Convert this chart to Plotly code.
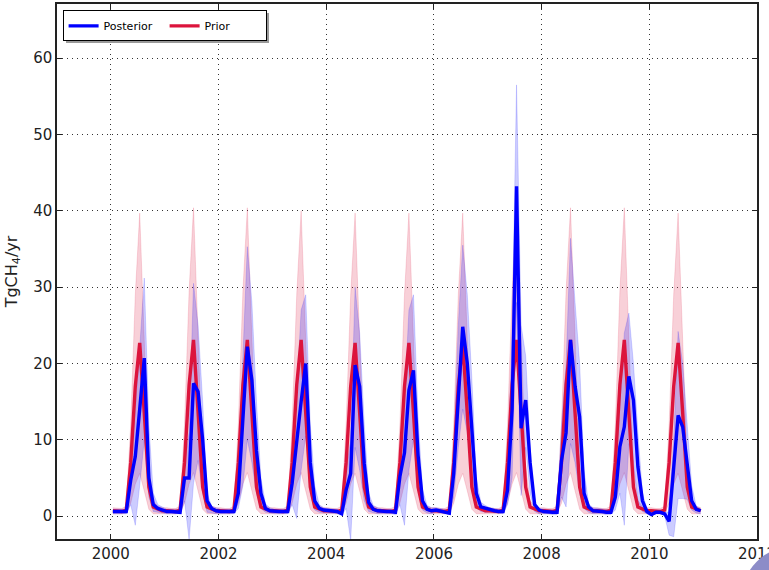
import plotly.graph_objects as go

years = list(range(2000, 2011))
months = [f"{y}-{m:02d}-15" for y in years for m in range(1, 13)]

prior_mean = [
    0.7, 0.6, 0.6, 0.8, 7.0, 17.0, 22.7, 13.5, 3.8, 1.2, 0.9, 0.7,   # 2000
    0.7, 0.6, 0.6, 0.8, 7.0, 17.2, 23.1, 13.6, 3.8, 1.2, 0.9, 0.7,   # 2001
    0.7, 0.6, 0.6, 0.8, 7.0, 17.2, 23.1, 13.5, 3.8, 1.2, 0.9, 0.7,   # 2002
    0.7, 0.6, 0.6, 0.8, 7.0, 17.2, 23.1, 13.5, 3.8, 1.2, 0.9, 0.7,   # 2003
    0.7, 0.6, 0.6, 0.8, 7.0, 17.0, 22.7, 13.5, 3.8, 1.2, 0.9, 0.7,   # 2004
    0.7, 0.6, 0.6, 0.8, 7.0, 17.0, 22.7, 13.5, 3.8, 1.2, 0.9, 0.7,   # 2005
    0.7, 0.6, 0.6, 0.8, 7.0, 17.0, 22.7, 13.5, 3.8, 1.2, 0.9, 0.7,   # 2006
    0.7, 0.6, 0.6, 0.8, 7.0, 17.2, 23.1, 13.6, 3.8, 1.2, 0.9, 0.7,   # 2007
    0.7, 0.6, 0.6, 0.8, 7.0, 17.2, 23.1, 13.5, 3.8, 1.2, 0.9, 0.7,   # 2008
    0.7, 0.6, 0.6, 0.8, 7.0, 17.2, 23.1, 13.5, 3.8, 1.2, 0.9, 0.7,   # 2009
    0.7, 0.6, 0.6, 0.8, 7.0, 17.0, 22.7, 13.5, 3.8, 1.2, 0.9, 0.7,   # 2010
]
prior_lo = [
    0.3, 0.3, 0.3, 0.4, 1.7, 4.2, 5.6, 3.3, 0.9, 0.3, 0.3, 0.3,
    0.3, 0.3, 0.3, 0.4, 1.7, 4.2, 5.7, 3.3, 0.9, 0.3, 0.3, 0.3,
    0.3, 0.3, 0.3, 0.4, 1.7, 4.2, 5.7, 3.3, 0.9, 0.3, 0.3, 0.3,
    0.3, 0.3, 0.3, 0.4, 1.7, 4.2, 5.7, 3.3, 0.9, 0.3, 0.3, 0.3,
    0.3, 0.3, 0.3, 0.4, 1.7, 4.2, 5.6, 3.3, 0.9, 0.3, 0.3, 0.3,
    0.3, 0.3, 0.3, 0.4, 1.7, 4.2, 5.6, 3.3, 0.9, 0.3, 0.3, 0.3,
    0.3, 0.3, 0.3, 0.4, 1.7, 4.2, 5.6, 3.3, 0.9, 0.3, 0.3, 0.3,
    0.3, 0.3, 0.3, 0.4, 1.7, 4.2, 5.7, 3.3, 0.9, 0.3, 0.3, 0.3,
    0.3, 0.3, 0.3, 0.4, 1.7, 4.2, 5.7, 3.3, 0.9, 0.3, 0.3, 0.3,
    0.3, 0.3, 0.3, 0.4, 1.7, 4.2, 5.7, 3.3, 0.9, 0.3, 0.3, 0.3,
    0.3, 0.3, 0.3, 0.4, 1.7, 4.2, 5.6, 3.3, 0.9, 0.3, 0.3, 0.3,
]
prior_hi = [
    1.1, 1.0, 1.0, 1.3, 12.0, 29.0, 39.7, 23.0, 6.5, 2.0, 1.3, 1.1,
    1.1, 1.0, 1.0, 1.3, 12.0, 29.5, 40.4, 23.5, 6.5, 2.0, 1.3, 1.1,
    1.1, 1.0, 1.0, 1.3, 12.0, 29.5, 40.4, 23.3, 6.5, 2.0, 1.3, 1.1,
    1.1, 1.0, 1.0, 1.3, 12.0, 29.0, 40.0, 23.0, 6.5, 2.0, 1.3, 1.1,
    1.1, 1.0, 1.0, 1.3, 12.0, 29.0, 39.7, 23.0, 6.5, 2.0, 1.3, 1.1,
    1.1, 1.0, 1.0, 1.3, 12.0, 29.0, 39.7, 23.0, 6.5, 2.0, 1.3, 1.1,
    1.1, 1.0, 1.0, 1.3, 12.0, 29.0, 39.7, 23.0, 6.5, 2.0, 1.3, 1.1,
    1.1, 1.0, 1.0, 1.3, 12.0, 29.5, 40.4, 23.5, 6.5, 2.0, 1.3, 1.1,
    1.1, 1.0, 1.0, 1.3, 12.0, 29.5, 40.4, 23.3, 6.5, 2.0, 1.3, 1.1,
    1.1, 1.0, 1.0, 1.3, 12.0, 29.5, 40.4, 23.3, 6.5, 2.0, 1.3, 1.1,
    1.1, 1.0, 1.0, 1.3, 12.0, 29.0, 39.7, 23.0, 6.5, 2.0, 1.3, 1.1,
]

post_mean = [
    0.6, 0.6, 0.6, 0.6, 4.7, 7.8, 14.0, 20.7, 5.0, 1.5, 1.0, 0.8,    # 2000
    0.6, 0.6, 0.5, 0.5, 5.0, 5.0, 17.4, 16.3, 10.0, 2.0, 1.0, 0.7,   # 2001
    0.6, 0.6, 0.6, 0.6, 3.0, 12.6, 22.2, 17.8, 8.6, 3.0, 1.0, 0.7,   # 2002
    0.6, 0.6, 0.6, 0.6, 4.3, 10.0, 15.0, 20.0, 7.0, 2.0, 1.0, 0.8,   # 2003
    0.7, 0.6, 0.6, 0.3, 3.4, 5.6, 19.8, 17.0, 6.9, 1.8, 0.9, 0.7,    # 2004
    0.6, 0.6, 0.6, 0.5, 5.2, 8.3, 16.5, 19.1, 8.0, 2.0, 0.9, 0.7,    # 2005
    0.8, 0.7, 0.6, 0.4, 5.6, 15.6, 24.8, 20.0, 11.3, 3.0, 1.2, 1.0,  # 2006
    0.8, 0.7, 0.6, 0.6, 3.4, 14.0, 43.2, 11.5, 15.2, 7.0, 1.5, 0.8,  # 2007
    0.6, 0.5, 0.5, 0.5, 7.3, 10.9, 23.1, 17.0, 13.0, 3.0, 1.2, 0.7,  # 2008
    0.7, 0.6, 0.5, 0.5, 2.5, 9.1, 11.7, 18.3, 15.2, 6.5, 2.0, 0.6,   # 2009
    0.2, 0.5, 0.5, 0.3, -0.7, 6.0, 13.2, 11.7, 6.5, 2.0, 0.9, 0.7,   # 2010
]
post_lo = [
    0.3, 0.3, 0.3, 0.3, 1.5, -1.2, 4.0, 10.0, 2.5, 0.6, 0.5, 0.4,
    0.3, 0.3, 0.3, 0.3, 2.0, -3.1, 4.3, 7.3, 3.0, 0.5, 0.4, 0.3,
    0.3, 0.3, 0.3, 0.3, 1.0, 4.0, 10.0, 7.0, 3.0, 1.0, 0.5, 0.4,
    0.3, 0.3, 0.3, 0.3, 1.5, -0.3, 6.0, 10.5, 3.0, 0.8, 0.5, 0.4,
    0.4, 0.3, 0.3, 0.1, 1.0, -3.2, 9.0, 6.0, 2.0, 0.6, 0.4, 0.3,
    0.3, 0.3, 0.3, 0.2, 1.5, -1.2, 6.0, 10.0, 3.5, 0.8, 0.4, 0.3,
    0.5, 0.4, 0.3, 0.2, 2.5, 9.0, 14.0, 11.0, 5.0, 1.2, 0.6, 0.5,
    0.5, 0.4, 0.3, 0.3, 1.5, 5.0, 28.0, 2.7, 9.0, 3.0, 0.6, 0.3,
    0.3, 0.3, 0.2, 0.2, 2.5, 1.2, 9.5, 7.0, 3.0, 1.0, 0.5, 0.3,
    0.3, 0.3, 0.2, 0.2, 0.8, 3.0, -1.2, 9.5, 7.0, 2.0, 0.6, 0.3,
    0.0, 0.3, 0.3, 0.0, -2.5, -2.7, 2.3, 2.3, 2.2, 0.8, 0.4, 0.3,
]
post_hi = [
    0.9, 0.9, 0.9, 0.9, 7.0, 14.0, 22.0, 31.2, 12.0, 3.0, 1.5, 1.2,
    0.9, 0.9, 0.9, 0.9, 7.0, 11.0, 30.5, 25.0, 15.0, 3.0, 1.3, 1.1,
    0.9, 0.9, 0.9, 0.9, 6.0, 20.0, 35.3, 28.0, 15.0, 5.0, 1.6, 1.1,
    0.9, 0.9, 0.9, 0.9, 7.0, 16.0, 27.0, 29.0, 12.0, 4.0, 1.5, 1.1,
    1.0, 0.9, 0.9, 0.6, 6.0, 10.0, 30.0, 24.0, 12.0, 3.0, 1.4, 1.1,
    0.9, 0.9, 0.9, 0.8, 8.0, 15.0, 27.0, 29.0, 13.0, 3.5, 1.4, 1.1,
    1.1, 1.0, 0.9, 0.7, 9.0, 25.0, 35.5, 29.0, 18.0, 5.0, 1.8, 1.4,
    1.1, 1.0, 0.9, 0.9, 6.0, 24.0, 56.5, 25.0, 21.0, 9.0, 1.6, 1.0,
    0.9, 0.8, 0.8, 0.8, 12.0, 20.0, 36.4, 28.0, 20.0, 6.0, 1.6, 1.1,
    1.0, 0.9, 0.8, 0.8, 5.0, 15.0, 24.0, 26.6, 20.0, 11.0, 3.0, 1.0,
    0.6, 0.8, 0.8, 0.6, 0.5, 10.0, 24.2, 20.0, 12.0, 4.0, 1.3, 1.0,
]

y_ticks = [0, 10, 20, 30, 40, 50, 60]
x_tick_years = [2000, 2002, 2004, 2006, 2008, 2010, 2012]

BLUE = "#0000ff"
RED = "#dc143c"

fig = go.Figure()

# Prior band
fig.add_trace(go.Scatter(x=months, y=prior_lo, mode="lines",
                         line=dict(width=0.6, color="rgba(220,20,60,0.25)"),
                         showlegend=False, hoverinfo="skip"))
fig.add_trace(go.Scatter(x=months, y=prior_hi, mode="lines", fill="tonexty",
                         fillcolor="rgba(220,20,60,0.2)",
                         line=dict(width=0.6, color="rgba(220,20,60,0.25)"),
                         showlegend=False, hoverinfo="skip"))
# Posterior band
fig.add_trace(go.Scatter(x=months, y=post_lo, mode="lines",
                         line=dict(width=0.6, color="rgba(0,0,255,0.25)"),
                         showlegend=False, hoverinfo="skip"))
fig.add_trace(go.Scatter(x=months, y=post_hi, mode="lines", fill="tonexty",
                         fillcolor="rgba(0,0,255,0.2)",
                         line=dict(width=0.6, color="rgba(0,0,255,0.25)"),
                         showlegend=False, hoverinfo="skip"))
# Lines
fig.add_trace(go.Scatter(x=months, y=prior_mean, mode="lines", name="Prior",
                         line=dict(width=3.4, color=RED)))
fig.add_trace(go.Scatter(x=months, y=post_mean, mode="lines", name="Posterior",
                         line=dict(width=3.4, color=BLUE)))

axis_common = dict(
    showline=True, linecolor="#222", linewidth=1.5, mirror="ticks",
    ticks="inside", ticklen=5, tickcolor="#222", tickwidth=1,
    showgrid=True, gridcolor="#333", gridwidth=1, griddash="1px,4px",
    zeroline=False, automargin=False, ticklabeloverflow="allow",
    tickfont=dict(family="DejaVu Sans", size=15, color="#222"),
)

fig.update_xaxes(
    type="date",
    range=["1999-01-01", "2012-01-01"],
    tickvals=[f"{y}-01-01" for y in x_tick_years],
    ticktext=[str(y) for y in x_tick_years],
    **axis_common,
)
fig.update_yaxes(
    range=[-3.0, 67.1],
    tickvals=y_ticks,
    title=dict(text="TgCH<sub>4</sub>/yr", font=dict(family="DejaVu Sans", size=16, color="#222"), standoff=12),
    **axis_common,
)

def px_x(p):
    return (p - 57) / 700

def px_y(p):
    return (539 - p) / 535

# legend drop shadow
fig.add_shape(type="rect", xref="paper", yref="paper",
              x0=px_x(66), x1=px_x(269), y0=px_y(43), y1=px_y(13),
              fillcolor="#9a9a9a", line=dict(width=0), layer="above")

# decorative circle at lower-right corner of the picture
fig.add_shape(type="circle", xref="paper", yref="paper",
              x0=px_x(742), x1=px_x(842), y0=px_y(647), y1=px_y(547),
              fillcolor="#8c8cc8", line=dict(width=0), layer="above")

fig.update_layout(
    width=769, height=570,
    margin=dict(l=57, r=12, t=4, b=31),
    paper_bgcolor="white", plot_bgcolor="white",
    template="none",
    showlegend=True,
    legend=dict(
        x=0.008, y=0.988, xanchor="left", yanchor="top",
        orientation="h", traceorder="reversed",
        bgcolor="white", bordercolor="#000", borderwidth=1,
        font=dict(family="DejaVu Sans", size=11, color="#000"),
        itemwidth=30, entrywidth=56,
    ),
)

fig.write_html("out.html")
